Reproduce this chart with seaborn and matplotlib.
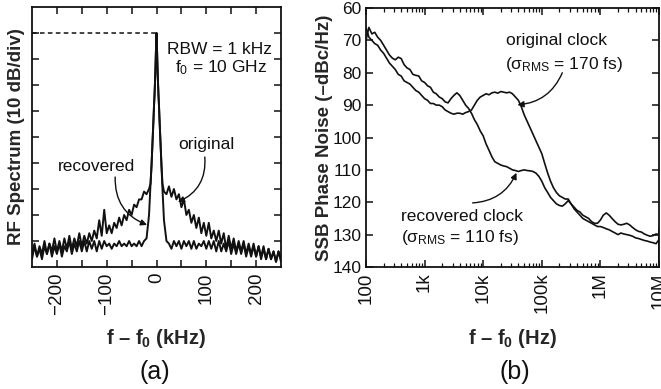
import numpy as np
import pandas as pd
import matplotlib
matplotlib.use("Agg")
import matplotlib.pyplot as plt
import seaborn as sns
from matplotlib.ticker import FixedLocator, FixedFormatter, NullFormatter, LogLocator

# ---------------- data: panel (a) RF spectrum ----------------
freq_khz = [-250, -245, -240, -235, -230, -225, -220, -215, -210, -205,
            -200, -195, -190, -185, -180, -175, -170, -165, -160, -155,
            -150, -145, -140, -135, -130, -125, -120, -115, -110, -105,
            -100, -95, -90, -85, -80, -75, -70, -65, -60, -55,
            -50, -45, -40, -35, -30, -25, -20,
            -15, -12, -10, -8, -6, -5, -4, -3, -2, -1, 0,
            1, 2, 3, 4, 5, 6, 8, 10, 12, 15,
            20, 25, 30, 35, 40, 45, 50, 55, 60, 65,
            70, 75, 80, 85, 90, 95, 100, 105, 110, 115,
            120, 125, 130, 135, 140, 145, 150, 155, 160, 165,
            170, 175, 180, 185, 190, 195, 200, 205, 210, 215,
            220, 225, 230, 235, 240, 245, 250]

recovered_db = [-87, -82, -86, -83, -87, -82, -85, -81, -86, -82,
                -85, -81, -86, -82, -84, -80, -85, -81, -84, -80,
                -84, -80, -84, -80, -83, -80, -84, -80, -83, -80,
                -82, -81, -83, -81, -82, -80, -82, -81, -82, -80,
                -82, -81, -82, -80, -82, -80, -79,
                -70, -58, -51, -42, -33, -28, -24, -19, -13, -6, 0,
                -6, -13, -19, -24, -28, -33, -42, -51, -60, -72,
                -80, -81, -83, -80, -82, -80, -83, -80, -82, -80,
                -83, -80, -83, -81, -82, -80, -83, -80, -83, -80,
                -84, -80, -84, -81, -84, -80, -85, -81, -85, -81,
                -85, -81, -86, -82, -86, -82, -86, -82, -87, -83,
                -87, -83, -87, -84, -88, -84, -87]

original_db = [-85, -81, -86, -82, -85, -80, -85, -81, -84, -79,
               -84, -80, -84, -79, -83, -78, -83, -79, -82, -77,
               -82, -78, -81, -77, -80, -76, -79, -72, -78, -68,
               -77, -74, -77, -73, -75, -71, -74, -70, -72, -68,
               -70, -66, -67, -64, -64, -61, -62,
               -60, -58, -51, -42, -33, -28, -24, -19, -13, -6, 0,
               -6, -13, -19, -24, -28, -33, -42, -51, -58, -61,
               -62, -59, -63, -60, -64, -62, -67, -64, -70, -68,
               -73, -70, -75, -71, -77, -73, -78, -73, -79, -76,
               -80, -76, -81, -77, -83, -78, -83, -79, -84, -80,
               -84, -80, -85, -81, -85, -81, -86, -82, -86, -82,
               -87, -83, -87, -84, -88, -84, -88]

a_xticks = [-200, -100, 0, 100, 200]

# ---------------- data: panel (b) SSB phase noise ----------------
freq_hz = [1.00e2, 1.12e2, 1.26e2, 1.41e2, 1.58e2, 1.78e2, 2.00e2, 2.24e2, 2.51e2, 2.82e2,
           3.16e2, 3.55e2, 3.98e2, 4.47e2, 5.01e2, 5.62e2, 6.31e2, 7.08e2, 7.94e2, 8.91e2,
           1.00e3, 1.12e3, 1.26e3, 1.41e3, 1.58e3, 1.78e3, 2.00e3, 2.24e3, 2.51e3, 2.82e3,
           3.16e3, 3.55e3, 3.98e3, 4.47e3, 5.01e3, 5.62e3, 6.31e3, 7.08e3, 7.94e3, 8.91e3,
           1.00e4, 1.12e4, 1.26e4, 1.41e4, 1.58e4, 1.78e4, 2.00e4, 2.24e4, 2.51e4, 2.82e4,
           3.16e4, 3.55e4, 3.98e4, 4.47e4, 5.01e4, 5.62e4, 6.31e4, 7.08e4, 7.94e4, 8.91e4,
           1.00e5, 1.12e5, 1.26e5, 1.41e5, 1.58e5, 1.78e5, 2.00e5, 2.24e5, 2.51e5, 2.82e5,
           3.16e5, 3.55e5, 3.98e5, 4.47e5, 5.01e5, 5.62e5, 6.31e5, 7.08e5, 7.94e5, 8.91e5,
           1.00e6, 1.12e6, 1.26e6, 1.41e6, 1.58e6, 1.78e6, 2.00e6, 2.24e6, 2.51e6, 2.82e6,
           3.16e6, 3.55e6, 3.98e6, 4.47e6, 5.01e6, 5.62e6, 6.31e6, 7.08e6, 7.94e6, 8.91e6,
           1.00e7]

recovered_clock = [70, 66, 68, 67.5, 69, 70, 71.5, 73, 74.5, 75.5,
                   76, 75.2, 75.6, 77.5, 78.5, 79, 80.5, 80.8, 81, 82.5,
                   83, 84, 84.5, 86, 86.5, 87.5, 88, 89, 89.3, 88,
                   87, 86.2, 87, 88.5, 90, 91, 92.5, 94.5, 96, 98,
                   99.5, 102, 104, 106, 107.5, 108, 108.5, 108.8, 109, 109.5,
                   110, 110.2, 110.5, 110.2, 110, 110.2, 110.3, 110.5, 111, 112,
                   113.5, 115.5, 117, 118.5, 119.5, 120.5, 121, 121.2, 120.5, 119.5,
                   120.5, 122, 123, 124, 125, 125.5, 126, 126.5, 127, 127.5,
                   127.5, 127.8, 128.2, 128.5, 129, 129.5, 130, 129.5, 129.8, 130,
                   130.2, 130.5, 131, 131.2, 131.5, 131.8, 132, 132.3, 132.5, 132.8,
                   131.5]

original_clock = [66, 69, 70, 71, 71.5, 73, 74, 75.5, 77, 78,
                  79, 80.5, 81, 82.5, 83, 83.5, 84.5, 85.5, 86, 87,
                  88, 88.5, 89.5, 89.5, 90, 90, 90.5, 91.5, 92, 92.5,
                  92.8, 92.5, 92.5, 92.8, 92.3, 92, 91.5, 90, 88.5, 87.5,
                  87, 86.5, 86.8, 86.2, 86, 86.3, 85.8, 86, 86.2, 86,
                  86.5, 87.5, 88.5, 90.5, 93, 95, 97, 99, 101, 103,
                  105, 108, 111, 113.5, 115.5, 117, 118, 118.5, 119, 119,
                  120.5, 121.5, 122.5, 123, 124, 124.5, 125, 126, 126.5, 126.5,
                  125.5, 124, 123.3, 124, 125, 126, 126.8, 127, 126.8, 126.5,
                  127, 127.8, 128.5, 129, 129.2, 129.8, 130.2, 130.5, 130.3, 129.8,
                  130]

# spike at right edge of the recovered-clock trace
edge_spike_hz = [1.00e7, 1.00e7]
edge_spike_db = [137.5, 128]

b_xticks = [1e2, 1e3, 1e4, 1e5, 1e6, 1e7]
b_xticklabels = ["100", "1k", "10k", "100k", "1M", "10M"]
b_yticks = [60, 70, 80, 90, 100, 110, 120, 130, 140]

# ---------------- style ----------------
sns.set_style("ticks")
plt.rcParams.update({
    "font.family": ["Liberation Sans", "DejaVu Sans"],
    "mathtext.fontset": "custom",
    "mathtext.rm": "Liberation Sans",
    "mathtext.it": "Liberation Sans:italic",
    "mathtext.bf": "Liberation Sans:bold",
    "axes.linewidth": 1.3,
    "axes.edgecolor": "#111111",
    "xtick.direction": "in",
    "ytick.direction": "in",
    "xtick.color": "#111111",
    "ytick.color": "#111111",
    "text.color": "#111111",
})
INK = "#111111"

fig = plt.figure(figsize=(6.61, 3.89), dpi=100)
W, H = 661, 389
axA = fig.add_axes([32 / W, (H - 267) / H, 249 / W, 260 / H])
axB = fig.add_axes([366 / W, (H - 267) / H, 293 / W, 259 / H])

# ---------------- panel (a) ----------------
n = len(freq_khz)
df_a = pd.DataFrame({
    "f": freq_khz + freq_khz,
    "level": recovered_db + original_db,
    "trace": ["recovered"] * n + ["original"] * n,
})
sns.lineplot(data=df_a, x="f", y="level", units="trace", estimator=None,
             sort=False, color=INK, lw=1.4, ax=axA, legend=False)

axA.set_xlim(-250, 250)
axA.set_ylim(-90, 10)
peak = max(original_db)
f_peak = freq_khz[original_db.index(peak)]
axA.hlines(peak, xmin=-250, xmax=f_peak, colors=INK, linestyles=(0, (3, 2.2)), lw=1.1)

axA.xaxis.set_major_locator(FixedLocator(a_xticks))
axA.xaxis.set_major_formatter(FixedFormatter([f"{v}".replace("-", "\u2212") for v in a_xticks]))
axA.xaxis.set_minor_locator(FixedLocator([-150, -50, 50, 150]))
axA.yaxis.set_major_locator(FixedLocator([-80, -70, -60, -50, -40, -30, -20, -10, 0]))
axA.yaxis.set_major_formatter(NullFormatter())
axA.tick_params(axis="both", which="both", direction="in", top=True, right=True,
                length=5, width=1.1)
axA.tick_params(axis="x", labelrotation=90, labelsize=13.5, pad=4)

axA.set_xlabel(r"f – f$_{\mathbf{0}}$ (kHz)", fontsize=14.5, fontweight="bold")
axA.set_ylabel("RF Spectrum (10 dB/div)", fontsize=13.5, fontweight="bold")
axA.xaxis.set_label_coords(0.5, -0.23)
axA.yaxis.set_label_coords(-0.027, 0.5)

axA.text(127, -6.2, "RBW = 1 kHz", ha="center", va="center", fontsize=12.5)
axA.text(129, -13.5, r"f$_{\mathregular{0}}$ = 10 GHz", ha="center", va="center", fontsize=12.5)
axA.text(101, -42.7, "original", ha="center", va="center", fontsize=12.5)
axA.text(-121, -51.5, "recovered", ha="center", va="center", fontsize=12.5)

arrow_kw = dict(arrowstyle="-|>", color=INK, lw=1.0, mutation_scale=9,
                shrinkA=0, shrinkB=0)
axA.annotate("", xy=(-19, -73.8), xytext=(-83, -55.4),
             arrowprops=dict(connectionstyle="arc3,rad=0.35", **arrow_kw))
axA.annotate("", xy=(43, -65), xytext=(97, -47.7),
             arrowprops=dict(connectionstyle="arc3,rad=-0.35", **arrow_kw))

# ---------------- panel (b) ----------------
axB.set_xscale("log")
m = len(freq_hz)
df_b = pd.DataFrame({
    "f": freq_hz + freq_hz + edge_spike_hz,
    "noise": original_clock + recovered_clock + edge_spike_db,
    "trace": ["original"] * m + ["recovered"] * (m + len(edge_spike_hz)),
})
sns.lineplot(data=df_b, x="f", y="noise", units="trace", estimator=None,
             sort=False, color=INK, lw=1.2, ax=axB, legend=False)

axB.set_xlim(1e2, 1e7)
axB.set_ylim(140, 60)
axB.xaxis.set_major_locator(FixedLocator(b_xticks))
axB.xaxis.set_major_formatter(FixedFormatter(b_xticklabels))
axB.xaxis.set_minor_locator(LogLocator(base=10, subs=np.arange(2, 10), numticks=20))
axB.xaxis.set_minor_formatter(NullFormatter())
axB.yaxis.set_major_locator(FixedLocator(b_yticks))
axB.tick_params(axis="both", which="major", direction="in", top=True, right=True,
                length=5, width=1.1)
axB.tick_params(axis="both", which="minor", direction="in", top=True, right=True,
                length=3, width=0.9)
axB.tick_params(axis="x", labelrotation=90, labelsize=13.5, pad=4)
axB.tick_params(axis="y", labelsize=12.5, pad=3)

axB.set_xlabel(r"f – f$_{\mathbf{0}}$ (Hz)", fontsize=14.5, fontweight="bold")
axB.set_ylabel("SSB Phase Noise (–dBc/Hz)", fontsize=13.5, fontweight="bold")
axB.xaxis.set_label_coords(0.5, -0.23)
axB.yaxis.set_label_coords(-0.112, 0.5)

axB.text(1.77e5, 69.9, "original clock", ha="center", va="center", fontsize=12.5)
axB.text(2.42e5, 77.3, r"(σ$_{\mathregular{RMS}}$ = 170 fs)", ha="center", va="center", fontsize=12.5)
axB.text(4.29e3, 124.5, "recovered clock", ha="center", va="center", fontsize=12.5)
axB.text(3.97e3, 131.0, r"(σ$_{\mathregular{RMS}}$ = 110 fs)", ha="center", va="center", fontsize=12.5)

axB.annotate("", xy=(3.84e4, 89.9), xytext=(2.24e5, 80),
             arrowprops=dict(connectionstyle="arc3,rad=-0.3", **arrow_kw))
axB.annotate("", xy=(3.7e4, 110.9), xytext=(6.6e3, 120.2),
             arrowprops=dict(connectionstyle="arc3,rad=0.3", **arrow_kw))

# panel captions
fig.text(155 / W, 1 - 372 / H, "(a)", ha="center", va="center", fontsize=18)
fig.text(515 / W, 1 - 372 / H, "(b)", ha="center", va="center", fontsize=18)

fig.savefig("out.png", dpi=100)
